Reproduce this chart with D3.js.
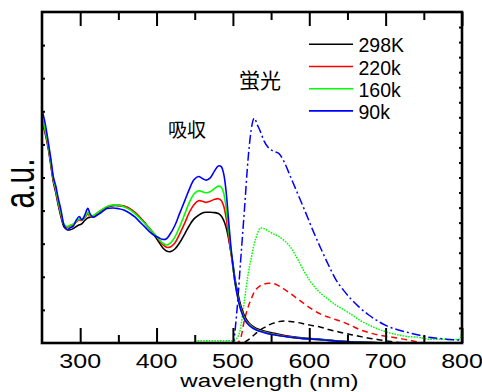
<!DOCTYPE html>
<html><head><meta charset="utf-8">
<script src="https://cdn.jsdelivr.net/npm/d3@7"></script>
<style>body{margin:0;background:#fff} svg{display:block}</style>
</head><body><svg id="c" width="482" height="392"></svg>
<script>
// ---- data ----
const absWl = [250,254,258,262,265,268,271,275,279,283,287,291,295,299,302,306,310,313,317,322,328,335,343,350,357,365,372,378,385,391,397,403,408,413,418,424,430,437,443,449,455,460,465,470,476,481,485,488,491,494,497,500,503,507,511,516,522,530,540,555,570,590,615,640,670,700];
const abs298 = [.67,.635,.59,.53,.485,.455,.42,.38,.35,.342,.342,.346,.352,.357,.36,.37,.378,.38,.382,.39,.4,.41,.415,.415,.413,.405,.393,.38,.362,.345,.326,.305,.288,.278,.276,.284,.302,.33,.355,.375,.386,.393,.395,.395,.394,.391,.383,.37,.35,.32,.28,.24,.19,.145,.108,.078,.058,.045,.037,.029,.022,.016,.011,.006,.002,0];
const abs220 = [.675,.64,.595,.535,.49,.46,.425,.385,.356,.35,.354,.358,.366,.372,.37,.378,.39,.383,.384,.392,.402,.412,.416,.416,.414,.406,.394,.38,.362,.346,.33,.312,.298,.289,.29,.302,.328,.363,.395,.418,.43,.428,.425,.428,.434,.436,.43,.413,.38,.33,.28,.23,.18,.135,.1,.072,.056,.042,.034,.026,.02,.014,.01,.005,.002,0];
const abs160 = [.68,.645,.60,.54,.495,.465,.43,.39,.358,.352,.356,.36,.368,.375,.372,.38,.395,.385,.385,.392,.402,.412,.417,.416,.412,.403,.39,.377,.36,.345,.33,.314,.302,.296,.302,.32,.35,.39,.425,.45,.46,.457,.454,.457,.467,.474,.47,.452,.41,.35,.29,.232,.18,.132,.098,.07,.054,.041,.033,.025,.019,.014,.01,.005,.002,0];
const abs90 = [.705,.665,.61,.55,.50,.475,.44,.40,.355,.343,.348,.353,.372,.382,.372,.386,.407,.39,.38,.386,.395,.406,.408,.406,.402,.392,.38,.366,.35,.336,.325,.318,.313,.315,.33,.355,.39,.43,.465,.493,.503,.497,.492,.498,.52,.535,.532,.51,.46,.38,.30,.235,.18,.13,.095,.068,.052,.04,.032,.024,.019,.014,.01,.005,.002,0];

const emWl = [450,500,505,510,515,520,525,528,532,536,541,547,553,560,567,575,585,595,605,615,625,635,645,655,665,678,691,704,717,730,743,756,769,782,795,798,800];
const em298 = [0,0,0,0,0.05,0.2,0.4,0.55,0.72,0.88,1.02,1.2,1.32,1.42,1.46,1.43,1.36,1.25,1.15,1.05,0.9,0.78,0.66,0.55,0.45,0.32,0.22,0.12,0.04,0,0,0,0,0,0,0,0];
const em220 = [0,0,0,0.3,1.5,2.4,3.05,3.4,3.65,3.82,3.92,3.97,3.95,3.8,3.58,3.3,2.92,2.55,2.2,1.92,1.72,1.55,1.37,1.15,0.91,0.69,0.53,0.42,0.31,0.2,0.05,0,0,0,0,0,0];
const em160 = [0.15,0.15,0.3,1.0,2.8,4.6,5.9,6.6,7.25,7.65,7.6,7.42,7.25,7.08,6.82,6.4,5.55,4.6,3.85,3.3,2.9,2.52,2.22,1.9,1.55,1.2,0.91,0.69,0.53,0.42,0.38,0.25,0.25,0.24,0.24,0.3,1.2];
const em90 = [0,0,2.0,5.4,8.8,12.3,14.5,14.95,14.5,14.05,13.4,12.95,12.75,12.6,12.05,11.1,9.9,8.7,7.45,6.3,5.2,4.2,3.5,2.9,2.4,1.86,1.42,1.08,0.86,0.69,0.53,0.38,0.31,0.24,0.2,0.2,0.2];

const seriesNames = ["298K","220k","160k","90k"];
const seriesColors = ["#000000","#ff0000","#00ff00","#0000ff"];
const emDash = ["6,4","6,4","1.6,1.2","9,3,2,3"];
const xMajor = [300,400,500,600,700,800];
const xMinor = [350,450,550,650,750];
const xTickLabels = ["300","400","500","600","700","800"];
const yLeftTicks = [0.1,0.2,0.3,0.4,0.5,0.6,0.7,0.8,0.9];
const yRightTicks = [1,2,3,4,5,6,7,8,9,10,11,12,13,14,15,16,17,18,19,20,21];
const absLabel = "吸収", emLabel = "蛍光";
const xTitle = "wavelength (nm)", yTitle = "a.u.";

// ---- layout ----
const L = 42, R = 462, T = 12, B = 343;
const svg = d3.select("#c");
const x = d3.scaleLinear().domain([250, 800]).range([L, R]);
const y = d3.scaleLinear().domain([0, 1]).range([B, T]);
const yR = d3.scaleLinear().domain([0, 22]).range([B, T]);
const FONT = "'Liberation Sans', Arial, sans-serif";
const CJK = "'Noto Sans CJK JP', sans-serif";

svg.append("defs").append("clipPath").attr("id", "clip")
  .append("rect").attr("x", L).attr("y", T).attr("width", R - L).attr("height", B - T);
const plot = svg.append("g").attr("clip-path", "url(#clip)");

const absSeries = [abs298, abs220, abs160, abs90];
const emSeries = [em298, em220, em160, em90];

const absLine = d3.line().x(d => x(d[0])).y(d => y(d[1])).curve(d3.curveCatmullRom.alpha(0.5));
const emLine = d3.line().x(d => x(d[0])).y(d => yR(d[1])).curve(d3.curveMonotoneX);

emSeries.forEach((vals, i) => {
  plot.append("path").datum(emWl.map((w, j) => [w, vals[j]]))
    .attr("d", emLine).attr("fill", "none").attr("stroke", seriesColors[i])
    .attr("stroke-width", 1.5).attr("stroke-dasharray", emDash[i]);
});
absSeries.forEach((vals, i) => {
  plot.append("path").datum(absWl.map((w, j) => [w, vals[j]]))
    .attr("d", absLine).attr("fill", "none").attr("stroke", seriesColors[i])
    .attr("stroke-width", 1.6);
});

// ---- axes ----
const ax = svg.append("g");
ax.append("g").attr("transform", `translate(0,${B})`)
  .call(d3.axisBottom(x).tickValues(xMajor).tickSize(-15).tickFormat(""));
ax.append("g").attr("transform", `translate(0,${B})`)
  .call(d3.axisBottom(x).tickValues(xMinor).tickSize(-8).tickFormat(""));
ax.append("g").attr("transform", `translate(0,${T})`)
  .call(d3.axisTop(x).tickValues(xMajor).tickSize(-14).tickFormat(""));
ax.append("g").attr("transform", `translate(0,${T})`)
  .call(d3.axisTop(x).tickValues(xMinor).tickSize(-8).tickFormat(""));
ax.append("g").attr("transform", `translate(${L},0)`)
  .call(d3.axisLeft(y).tickValues(yLeftTicks).tickSize(-3).tickFormat(""));
ax.append("g").attr("transform", `translate(${R},0)`)
  .call(d3.axisRight(yR).tickValues(yRightTicks).tickSize(-3).tickFormat(""));
ax.selectAll(".domain").remove();
ax.selectAll(".tick line").attr("stroke", "#000").attr("stroke-width", 2);
svg.append("rect").attr("x", L).attr("y", T).attr("width", R - L).attr("height", B - T)
  .attr("fill", "none").attr("stroke", "#000").attr("stroke-width", 2.6);

// tick labels
xMajor.forEach((v, i) => {
  svg.append("text").attr("transform", `translate(${x(v)},367.5) scale(1.22,1)`)
    .attr("text-anchor", "middle").attr("font-family", FONT).attr("font-size", 20.5)
    .attr("fill", "#000").text(xTickLabels[i]);
});
svg.append("text").attr("transform", "translate(269.5,386.5) scale(1.27,1)")
  .attr("text-anchor", "middle").attr("font-family", FONT).attr("font-size", 19)
  .attr("fill", "#000").text(xTitle);
svg.append("text").attr("transform", "translate(33.5,183.5) rotate(-90) scale(1,1.4)")
  .attr("text-anchor", "middle").attr("font-family", FONT).attr("font-size", 30)
  .attr("fill", "#000").text(yTitle);

svg.append("text").attr("x", 168).attr("y", 136.5).attr("font-family", CJK)
  .attr("font-size", 19).attr("fill", "#000").text(absLabel);
svg.append("text").attr("x", 239).attr("y", 88).attr("font-family", CJK)
  .attr("font-size", 21).attr("fill", "#000").text(emLabel);

// legend
const legY = [44.3, 66.5, 88.7, 110.9];
seriesNames.forEach((n, i) => {
  svg.append("line").attr("x1", 309).attr("x2", 353).attr("y1", legY[i]).attr("y2", legY[i])
    .attr("stroke", seriesColors[i]).attr("stroke-width", 1.6);
  svg.append("text").attr("x", 358.5).attr("y", legY[i] + 8).attr("font-family", FONT)
    .attr("font-size", 19.5).attr("fill", "#000").text(n);
});
</script></body></html>
